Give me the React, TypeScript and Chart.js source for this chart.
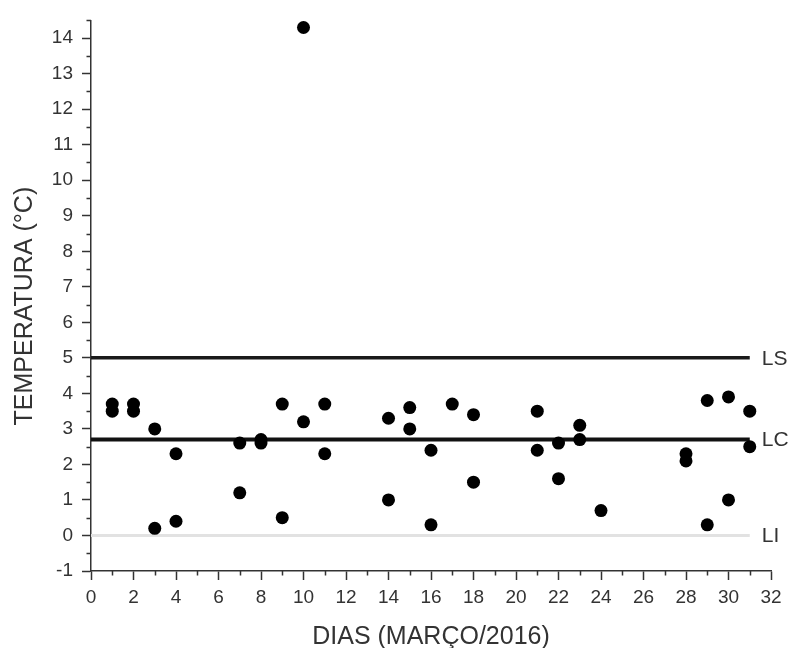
import React, { useEffect, useRef } from 'react';
import { Chart, registerables } from 'chart.js';

Chart.register(...registerables);

// Data
const days = [1, 1, 2, 2, 3, 3, 4, 4, 7, 7, 8, 8, 9, 9, 10, 10, 11, 11, 14, 14, 15, 15, 16, 16, 17, 18, 18, 21, 21, 22, 22, 23, 23, 24, 28, 28, 29, 29, 30, 30, 31, 31];
const temps = [3.7, 3.5, 3.7, 3.5, 3.0, 0.2, 2.3, 0.4, 2.6, 1.2, 2.7, 2.6, 3.7, 0.5, 3.2, 14.3, 3.7, 2.3, 3.3, 1.0, 3.6, 3.0, 2.4, 0.3, 3.7, 3.4, 1.5, 3.5, 2.4, 2.6, 1.6, 3.1, 2.7, 0.7, 2.3, 2.1, 3.8, 0.3, 3.9, 1.0, 3.5, 2.5];

const limitNames = ['LS', 'LC', 'LI'];
const limitValues = [5, 2.7, 0];
const limitColors = ['#1a1a1a', '#111111', '#e2e2e2'];
const limitWidths = [3.5, 4, 3];
const limitStart = 0;
const limitEnd = 31;

const xMin = 0;
const xMax = 32;
const xStep = 2;
const yMin = -1;
const yMax = 14.5;
const yStep = 1;

const xTitle = 'DIAS (MARÇO/2016)';
const yTitle = 'TEMPERATURA (°C)   ';

const FONT = '"Liberation Sans", Arial, sans-serif';
const AXIS = '#333333';
const TEXT = '#333333';

const minorTicks = {
  id: 'minorTicks',
  afterDraw(chart: any) {
    const { ctx } = chart;
    const x = chart.scales.x;
    const y = chart.scales.y;
    ctx.save();
    ctx.strokeStyle = AXIS;
    ctx.lineWidth = 1.5;
    ctx.beginPath();
    for (let v = xMin + xStep / 2; v < xMax; v += xStep) {
      const px = Math.round(x.getPixelForValue(v)) + 0.5;
      ctx.moveTo(px, x.top);
      ctx.lineTo(px, x.top + 4.5);
    }
    for (let v = yMin + yStep / 2; v <= yMax + 1e-9; v += yStep) {
      const py = Math.round(y.getPixelForValue(v)) + 0.5;
      ctx.moveTo(y.right - 4.5, py);
      ctx.lineTo(y.right, py);
    }
    ctx.stroke();
    ctx.restore();
  },
};

const limitLabels = {
  id: 'limitLabels',
  afterDatasetsDraw(chart: any) {
    const { ctx } = chart;
    const x = chart.scales.x;
    const y = chart.scales.y;
    ctx.save();
    ctx.font = `21px ${FONT}`;
    ctx.fillStyle = TEXT;
    ctx.textAlign = 'left';
    ctx.textBaseline = 'middle';
    limitNames.forEach((name, i) => {
      ctx.fillText(name, x.getPixelForValue(limitEnd) + 12, y.getPixelForValue(limitValues[i]) + 1);
    });
    ctx.restore();
  },
};

export default function App() {
  const ref = useRef<HTMLCanvasElement | null>(null);

  useEffect(() => {
    document.body.style.margin = '0';
    const canvas = ref.current;
    if (!canvas) return;

    const lineSets = limitNames.map((name, i) => ({
      label: name,
      data: [
        { x: limitStart, y: limitValues[i] },
        { x: limitEnd, y: limitValues[i] },
      ],
      showLine: true,
      borderColor: limitColors[i],
      borderWidth: limitWidths[i],
      pointRadius: 0,
      order: 2,
    }));

    const chart = new Chart(canvas, {
      type: 'scatter',
      data: {
        datasets: [
          ...lineSets,
          {
            label: 'Temperatura',
            data: days.map((d, i) => ({ x: d, y: temps[i] })),
            backgroundColor: '#000000',
            borderWidth: 0,
            pointRadius: 6.5,
            pointHoverRadius: 6.5,
            order: 1,
          },
        ],
      },
      options: {
        animation: false,
        responsive: false,
        devicePixelRatio: 1,
        layout: { padding: { top: 18, right: 23, left: 0, bottom: 0 } },
        plugins: {
          legend: { display: false },
          tooltip: { enabled: false },
        },
        scales: {
          x: {
            type: 'linear',
            min: xMin,
            max: xMax,
            afterFit: (s: any) => {
              s.height = 77;
            },
            ticks: {
              stepSize: xStep,
              autoSkip: false,
              maxRotation: 0,
              minRotation: 0,
              padding: 6,
              color: TEXT,
              font: { family: FONT, size: 19 },
              callback: (v: any) => String(v),
            },
            grid: {
              drawOnChartArea: false,
              drawTicks: true,
              tickLength: 9,
              tickColor: AXIS,
              tickWidth: 1.5,
            },
            border: { display: true, color: AXIS, width: 1.5 },
            title: {
              display: true,
              text: xTitle,
              color: TEXT,
              font: { family: FONT, size: 25, lineHeight: 0.88 },
              padding: 0,
            },
          },
          y: {
            type: 'linear',
            min: yMin,
            max: yMax,
            afterFit: (s: any) => {
              s.width = 91;
            },
            ticks: {
              stepSize: yStep,
              includeBounds: false,
              autoSkip: false,
              padding: 9,
              color: TEXT,
              font: { family: FONT, size: 19 },
              callback: (v: any) => (Number.isInteger(v) ? String(v) : ''),
            },
            grid: {
              drawOnChartArea: false,
              drawTicks: true,
              tickLength: 9,
              tickWidth: 1.5,
              tickColor: (c: any) => (c.tick && Number.isInteger(c.tick.value) ? AXIS : 'rgba(0,0,0,0)'),
            },
            border: { display: true, color: AXIS, width: 1.5 },
            title: {
              display: true,
              text: yTitle,
              color: TEXT,
              font: { family: FONT, size: 25, lineHeight: 1 },
              padding: { top: 13, bottom: 0 },
            },
          },
        },
      },
      plugins: [minorTicks, limitLabels],
    });

    return () => chart.destroy();
  }, []);

  return (
    <div style={{ width: 794, height: 648 }}>
      <canvas ref={ref} width={794} height={648} style={{ display: 'block' }} />
    </div>
  );
}
